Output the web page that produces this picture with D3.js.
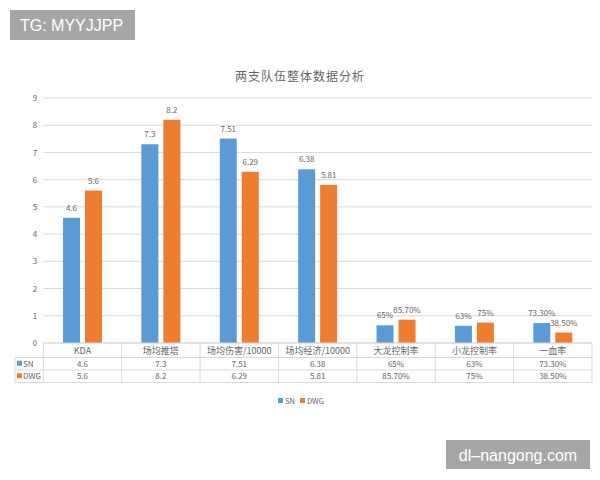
<!DOCTYPE html>
<html><head><meta charset="utf-8">
<script src="https://cdn.jsdelivr.net/npm/d3@7/dist/d3.min.js"></script>
<style>body{margin:0;background:#fff}svg{display:block}</style>
</head><body>
<svg id="c" width="600" height="480"></svg>
<script>
const categories = ["KDA","场均推塔","场均伤害/10000","场均经济/10000","大龙控制率","小龙控制率","一血率"];
const seriesNames = ["SN","DWG"];
const snValues = [4.6, 7.3, 7.51, 6.38, 0.65, 0.63, 0.733];
const dwgValues = [5.6, 8.2, 6.29, 5.81, 0.857, 0.75, 0.385];
const snLabels = ["4.6","7.3","7.51","6.38","65%","63%","73.30%"];
const dwgLabels = ["5.6","8.2","6.29","5.81","85.70%","75%","38.50%"];
const yTicks = [0,1,2,3,4,5,6,7,8,9];
const colors = ["#5b9bd5","#ed7d31"];
const title = "两支队伍整体数据分析";

(function(){
const font = "'Noto Sans CJK SC','Noto Sans',sans-serif";
const svg = d3.select("#c").style("font-family", font);
const pLeft = 43.3, pRight = 592, pTop = 98, pBottom = 343;
const txt = "#666666";

const x = d3.scaleBand().domain(categories).range([pLeft, pRight]).paddingInner(0).paddingOuter(0);
const xs = d3.scaleBand().domain(seriesNames).range([0, x.bandwidth()]).paddingInner(0.227).paddingOuter(0.895);
const y = d3.scaleLinear().domain([0, 9]).range([pBottom, pTop]);

// gridlines
svg.append("g").selectAll("line").data(yTicks).join("line")
  .attr("x1", pLeft).attr("x2", pRight)
  .attr("y1", d => y(d)).attr("y2", d => y(d))
  .attr("stroke", "#d9d9d9").attr("stroke-width", 1);

// y axis labels
const yAxis = d3.axisLeft(y).tickValues(yTicks).tickSize(0).tickPadding(0);
const ga = svg.append("g").attr("transform", `translate(${pLeft-6},0)`).call(yAxis);
ga.select(".domain").remove();
ga.selectAll("text").attr("fill", txt).style("font-size", "8px").style("font-family", font);

// title
svg.append("text").attr("x", 300).attr("y", 81).attr("text-anchor", "middle")
  .attr("fill", "#666666").style("font-size", "12px").style("letter-spacing", "1px").text(title);

const series = [snValues, dwgValues];
const labels = [snLabels, dwgLabels];
series.forEach((vals, si) => {
  const g = svg.append("g");
  g.selectAll("rect").data(categories).join("rect")
    .attr("x", (c) => x(c) + xs(seriesNames[si]))
    .attr("width", xs.bandwidth())
    .attr("y", (c, i) => y(vals[i]))
    .attr("height", (c, i) => y(0) - y(vals[i]))
    .attr("fill", colors[si]);
  g.selectAll("text").data(categories).join("text")
    .attr("x", (c) => x(c) + xs(seriesNames[si]) + xs.bandwidth()/2)
    .attr("y", (c, i) => y(vals[i]) - 7)
    .attr("text-anchor", "middle").attr("fill", txt)
    .style("font-size", "8px")
    .text((c, i) => labels[si][i]);
});

// data table
const rowY = [343, 357.5, 370, 382.5];
const tg = svg.append("g");
const lc = "#d9d9d9";
tg.append("line").attr("x1", pLeft).attr("x2", pRight).attr("y1", rowY[0]).attr("y2", rowY[0]).attr("stroke", lc);
[1,2,3].forEach(r => tg.append("line").attr("x1", 15).attr("x2", pRight).attr("y1", rowY[r]).attr("y2", rowY[r]).attr("stroke", lc));
const vx = categories.map(c => x(c)).concat([pRight]);
tg.selectAll("line.v").data(vx).join("line").attr("class","v")
  .attr("x1", d => d).attr("x2", d => d).attr("y1", rowY[0]).attr("y2", rowY[3]).attr("stroke", lc);
tg.append("line").attr("x1", 15).attr("x2", 15).attr("y1", rowY[1]).attr("y2", rowY[3]).attr("stroke", lc);
tg.selectAll("text.h").data(categories).join("text").attr("class","h")
  .attr("x", c => x(c) + x.bandwidth()/2).attr("y", (rowY[0]+rowY[1])/2 + 3.5)
  .attr("text-anchor","middle").attr("fill",txt).style("font-size","9px").text(c => c);
labels.forEach((lab, si) => {
  const cy = (rowY[si+1]+rowY[si+2])/2 + 3;
  tg.selectAll("text.r"+si).data(categories).join("text").attr("class","r"+si)
    .attr("x", c => x(c) + x.bandwidth()/2).attr("y", cy)
    .attr("text-anchor","middle").attr("fill",txt).style("font-size","8px")
    .text((c, i) => lab[i]);
  tg.append("rect").attr("x", 17).attr("y", cy - 6).attr("width", 5).attr("height", 5).attr("fill", colors[si]);
  tg.append("text").attr("x", 23).attr("y", cy).attr("fill",txt).style("font-size","8px").text(seriesNames[si]);
});

// legend
const lg = svg.append("g");
const legX = [278, 300];
seriesNames.forEach((s, i) => {
  lg.append("rect").attr("x", legX[i]).attr("y", 398).attr("width", 5).attr("height", 5).attr("fill", colors[i]);
  lg.append("text").attr("x", legX[i] + 7).attr("y", 403.5).attr("fill", txt).style("font-size", "7.5px").text(s);
});

// watermarks
svg.append("rect").attr("x", 10).attr("y", 10).attr("width", 125).attr("height", 30).attr("fill", "#a6a6a6");
svg.append("text").attr("x", 20).attr("y", 31).attr("fill", "#fff").style("font-size", "16px")
  .style("font-family", "'Liberation Sans',Arial,sans-serif").text("TG: MYYJJPP");
svg.append("rect").attr("x", 446).attr("y", 440).attr("width", 144).attr("height", 29).attr("fill", "#a6a6a6");
svg.append("text").attr("x", 518).attr("y", 460.5).attr("text-anchor","middle").attr("fill", "#fff").style("font-size", "16px")
  .style("font-family", "'Liberation Sans',Arial,sans-serif").text("dl–nangong.com");
})();
</script>
</body></html>
